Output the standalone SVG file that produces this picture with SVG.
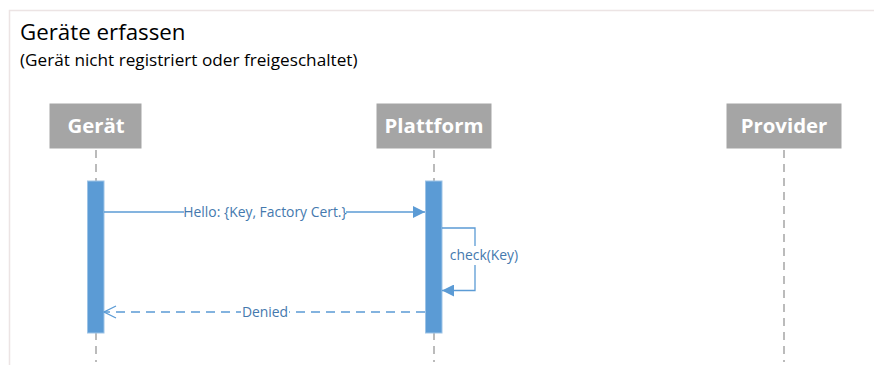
<svg xmlns="http://www.w3.org/2000/svg" width="874" height="365" viewBox="0 0 874 365">
  <style>
    .title { font-family: "Open Sans", "Noto Sans", sans-serif; fill: #000; }
    .box { fill: #a5a5a5; stroke: #ffffff; stroke-width: 1; }
    .head text { font-family: "Open Sans", "Noto Sans", sans-serif; font-size: 20.4px; font-weight: bold; fill: #ffffff; text-anchor: middle; }
    .life { stroke: #a5a5a5; stroke-width: 1.5; stroke-dasharray: 8 6; fill: none; }
    .act { fill: #5b9bd5; stroke: #9dc3e6; stroke-width: 1; }
    .msg { stroke: #5b9bd5; stroke-width: 1.3; fill: none; }
    .ret { stroke-dasharray: 9 6; }
    .lbl { font-family: "Open Sans", "Noto Sans", sans-serif; font-size: 13.9px; fill: #4579ae; text-anchor: middle; }
    .lblbg { fill: #ffffff; }
  </style>
  <defs>
    <marker id="filled" viewBox="0 0 12 12" refX="12" refY="6" markerWidth="12" markerHeight="12" markerUnits="userSpaceOnUse" orient="auto">
      <path d="M0,0 L12,6 L0,12 Z" fill="#5b9bd5"/>
    </marker>
    <marker id="open" viewBox="0 0 14 14" refX="13" refY="7" markerWidth="14" markerHeight="14" markerUnits="userSpaceOnUse" orient="auto">
      <path d="M1,1 L13,7 L1,13" fill="none" stroke="#5b9bd5" stroke-width="1.3"/>
    </marker>
  </defs>

  <rect width="874" height="365" fill="#ffffff"/>
  <!-- frame -->
  <path d="M9.5,365 L9.5,10.5 L874,10.5" fill="none" stroke="#ece4e4" stroke-width="1.5"/>

  <text class="title" x="20" y="40" font-size="22.3">Geräte erfassen</text>
  <text class="title" x="20" y="66" font-size="17.2">(Gerät nicht registriert oder freigeschaltet)</text>

  <!-- lifelines -->
  <g id="lifelines">
    <line class="life" x1="96" y1="150" x2="96" y2="362"/>
    <line class="life" x1="434" y1="150" x2="434" y2="362"/>
    <line class="life" x1="784" y1="150" x2="784" y2="362"/>
  </g>

  <g id="geraet" class="head">
    <rect class="box" x="49" y="103" width="93" height="46"/>
    <text x="96" y="133">Gerät</text>
    <rect class="act" x="87.5" y="181" width="16.5" height="152"/>
  </g>

  <g id="plattform" class="head">
    <rect class="box" x="376" y="103" width="116" height="46"/>
    <text x="434" y="133">Plattform</text>
    <rect class="act" x="425.5" y="181" width="16.5" height="152"/>
  </g>

  <g id="provider" class="head">
    <rect class="box" x="726" y="103" width="116" height="46"/>
    <text x="784" y="133">Provider</text>
  </g>

  <g id="connectors">
    <line class="msg" x1="104" y1="212" x2="425" y2="212" marker-end="url(#filled)"/>
    <rect class="lblbg" x="184" y="203" width="162" height="18"/>
    <text class="lbl" x="265" y="217">Hello: {Key, Factory Cert.}</text>

    <polyline class="msg" points="442,228 475,228 475,290.5 442,290.5" marker-end="url(#filled)"/>
    <rect class="lblbg" x="448" y="246" width="74" height="19"/>
    <text class="lbl" x="484" y="260">check(Key)</text>

    <line class="msg ret" x1="425" y1="312" x2="104" y2="312" marker-end="url(#open)"/>
    <rect class="lblbg" x="241" y="303" width="48" height="18"/>
    <text class="lbl" x="265" y="317">Denied</text>
  </g>
</svg>
